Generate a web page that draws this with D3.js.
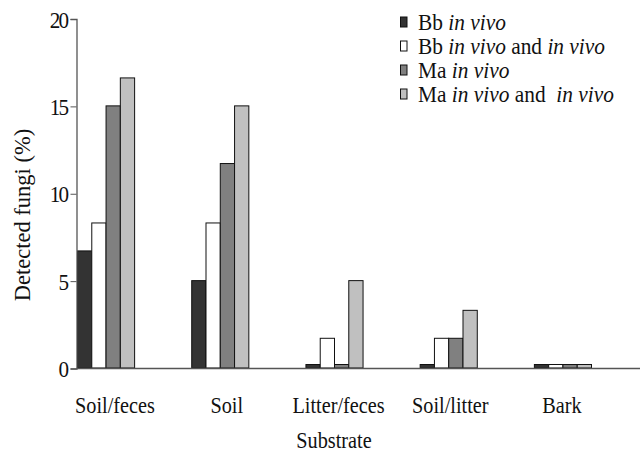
<!DOCTYPE html>
<html><head><meta charset="utf-8">
<script src="https://cdn.jsdelivr.net/npm/d3@7"></script>
<style>
body{margin:0;background:#fff;}
svg text{font-family:"Liberation Serif","Tinos","Times New Roman","Times","DejaVu Serif",serif !important;fill:#111;}
</style></head>
<body><svg id="c" width="642" height="455" font-family="Liberation Serif, Times New Roman, DejaVu Serif, serif"></svg>
<script>
const categories = ["Soil/feces","Soil","Litter/feces","Soil/litter","Bark"];
const seriesNames = ["Bb in vivo","Bb in vivo and in vivo","Ma in vivo","Ma in vivo and  in vivo"];
const bbInVivo     = [6.7, 5.0, 0.2, 0.2, 0.2];
const bbInVivoBoth = [8.3, 8.3, 1.7, 1.7, 0.2];
const maInVivo     = [15.0, 11.7, 0.2, 1.7, 0.2];
const maInVivoBoth = [16.6, 15.0, 5.0, 3.3, 0.2];
const yTicks = [0, 5, 10, 15, 20];
const colors = ["#333333","#ffffff","#808080","#c0c0c0"];
const legendParts = [
  [["Bb ",false],["in vivo",true]],
  [["Bb ",false],["in vivo",true],[" and ",false],["in vivo",true]],
  [["Ma ",false],["in vivo",true]],
  [["Ma ",false],["in vivo",true],[" and  ",false],["in vivo",true]]
];
const series = [bbInVivo, bbInVivoBoth, maInVivo, maInVivoBoth];

const svg = d3.select("#c");
const y = d3.scaleLinear().domain([0,20]).range([368,18.5]);
const x0 = d3.scaleBand().domain(categories).range([77,591]).paddingInner(0.5).paddingOuter(0);
const x1 = d3.scaleBand().domain(d3.range(4)).range([0,x0.bandwidth()]);
const xl = d3.scalePoint().domain(categories).range([115,562]);

const g = svg.append("g");
categories.forEach((c,i)=>{
  series.forEach((s,j)=>{
    g.append("rect")
      .attr("x", x0(c)+x1(j)+0.5)
      .attr("y", y(s[i]))
      .attr("width", x1.bandwidth())
      .attr("height", y(0)-y(s[i]))
      .attr("fill", colors[j])
      .attr("stroke","#111").attr("stroke-width",1);
  });
});

svg.append("line").attr("x1",76.5).attr("x2",640).attr("y1",y(0)+0.5).attr("y2",y(0)+0.5)
  .attr("stroke","#555").attr("stroke-width",1.3);

const ya = svg.append("g").attr("transform","translate(76.5,0.5)")
  .call(d3.axisLeft(y).tickValues(yTicks).tickSize(6).tickPadding(3).tickFormat(d3.format("d")));
ya.attr("font-family",null);
ya.select(".domain").attr("stroke","#555").attr("stroke-width",1.3);
ya.selectAll(".tick line").attr("stroke","#555");
ya.selectAll(".tick text").style("font-size","24px")
  .attr("letter-spacing","-2").attr("fill","#111")
  .attr("transform","scale(0.88,1)").attr("x",-10.5).attr("dy","0.34em");

svg.append("g").selectAll("text").data(categories).join("text")
  .attr("transform", d=>`translate(${xl(d)},413) scale(0.9,1)`).attr("text-anchor","middle")
  .style("font-size","22.5px").text(d=>d);

svg.append("text").attr("transform",`translate(${(x0.range()[0]+x0.range()[1])/2},448) scale(0.9,1)`)
  .attr("text-anchor","middle").style("font-size","22.5px").text("Substrate");

svg.append("text").attr("transform","translate(30,215) rotate(-90)")
  .attr("text-anchor","middle").style("font-size","22.5px").text("Detected fungi (%)");

const lg = svg.append("g");
legendParts.forEach((parts,i)=>{
  const yy = 29.5 + i*24;
  lg.append("rect").attr("x",400.5).attr("y",yy-12.5).attr("width",6.5).attr("height",10)
    .attr("fill",colors[i]).attr("stroke","#111").attr("stroke-width",1);
  const t = lg.append("text").attr("transform",`translate(418,${yy}) scale(0.95,1)`).style("font-size","22.5px");
  parts.forEach(p=>{
    t.append("tspan").style("font-style",p[1]?"italic":"normal").attr("xml:space","preserve").text(p[0]);
  });
});
</script></body></html>
